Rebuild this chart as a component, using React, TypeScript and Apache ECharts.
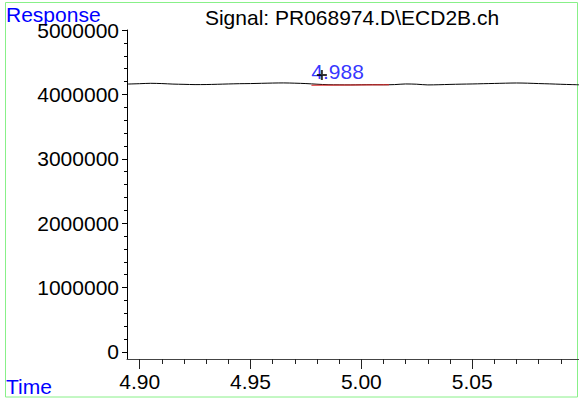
import React, { useEffect, useRef } from "react";
import * as echarts from "echarts";

const titleText = "Signal: PR068974.D\\ECD2B.ch";
const yAxisName = "Response";
const xAxisName = "Time";

const times = [
  4.8943, 4.9, 4.905, 4.91, 4.915, 4.92, 4.925, 4.93, 4.935, 4.94, 4.945, 4.95,
  4.955, 4.96, 4.965, 4.97, 4.975, 4.98, 4.985, 4.99, 4.995, 5.0, 5.005, 5.01,
  5.015, 5.02, 5.025, 5.03, 5.035, 5.04, 5.045, 5.05, 5.055, 5.06, 5.065, 5.07,
  5.075, 5.08, 5.085, 5.09, 5.095, 5.0982,
];
const responses = [
  4160000, 4166000, 4172000, 4168000, 4160000, 4156000, 4152000, 4153000,
  4157000, 4162000, 4166000, 4168000, 4172000, 4176000, 4178000, 4174000,
  4168000, 4158000, 4150000, 4148000, 4147000, 4149000, 4150000, 4149000,
  4152000, 4162000, 4158000, 4147000, 4150000, 4155000, 4159000, 4162000,
  4166000, 4170000, 4174000, 4177000, 4174000, 4168000, 4163000, 4157000,
  4152000, 4149000,
];

const baselineTimes = [4.9775, 5.0125];
const baselineValues = [4142000, 4149000];

const apexTime = 4.9822;
const apexMarkValue = 4300000;
const peakLabel = "4.988";
const peakLabelTime = 4.9893;
const peakLabelValue = 4362000;

const xMin = 4.8943;
const xMax = 5.0982;
const yMin = -110000;
const yMax = 5000000;

const xMajorTicks = [4.9, 4.95, 5.0, 5.05];
const xMinorTicks = [
  4.9, 4.91, 4.92, 4.93, 4.94, 4.95, 4.96, 4.97, 4.98, 4.99, 5.0, 5.01, 5.02,
  5.03, 5.04, 5.05, 5.06, 5.07, 5.08, 5.09,
];
const yMajorTicks = [0, 1000000, 2000000, 3000000, 4000000, 5000000];
const yMinorTicks = [
  0, 200000, 400000, 600000, 800000, 1000000, 1200000, 1400000, 1600000,
  1800000, 2000000, 2200000, 2400000, 2600000, 2800000, 3000000, 3200000,
  3400000, 3600000, 3800000, 4000000, 4200000, 4400000, 4600000, 4800000,
  5000000,
];

const FONT = "'Liberation Sans', Arial, Helvetica, sans-serif";
const FS = 21;

export default function App() {
  const ref = useRef<HTMLDivElement>(null);

  useEffect(() => {
    if (!ref.current) return;
    const chart = echarts.init(ref.current, undefined, { renderer: "svg" });
    const line = times.map((t, i) => [t, responses[i]]);
    const base = baselineTimes.map((t, i) => [t, baselineValues[i]]);

    chart.setOption({
      animation: false,
      backgroundColor: "#ffffff",
      textStyle: { fontFamily: FONT },
      grid: { left: 127, right: 0, top: 30, bottom: 40 },
      xAxis: [
        {
          type: "value",
          min: xMin,
          max: xMax,
          position: "bottom",
          axisLine: { show: true, onZero: false, lineStyle: { color: "#444", width: 1 } },
          axisTick: {
            show: true,
            inside: false,
            customValues: xMajorTicks,
            length: 10,
            lineStyle: { color: "#222" },
          },
          axisLabel: {
            show: true,
            customValues: xMajorTicks,
            formatter: (v: number) => v.toFixed(2),
            fontSize: FS,
            color: "#000",
            margin: 12,
            fontFamily: FONT,
          },
          splitLine: { show: false },
        },
        {
          type: "value",
          min: xMin,
          max: xMax,
          position: "bottom",
          axisLine: { show: false, onZero: false },
          axisTick: {
            show: true,
            inside: false,
            customValues: xMinorTicks,
            length: 5,
            lineStyle: { color: "#222" },
          },
          axisLabel: { show: false },
          splitLine: { show: false },
        },
      ],
      yAxis: [
        {
          type: "value",
          min: yMin,
          max: yMax,
          position: "left",
          axisLine: { show: true, onZero: false, lineStyle: { color: "#000", width: 1 } },
          axisTick: {
            show: true,
            inside: false,
            customValues: yMajorTicks,
            length: 5,
            lineStyle: { color: "#000" },
          },
          axisLabel: {
            show: true,
            customValues: yMajorTicks,
            formatter: (v: number) => String(Math.round(v)),
            fontSize: FS,
            color: "#000",
            margin: 8,
            fontFamily: FONT,
          },
          splitLine: { show: false },
        },
        {
          type: "value",
          min: yMin,
          max: yMax,
          position: "left",
          axisLine: { show: false, onZero: false },
          axisTick: {
            show: true,
            inside: false,
            customValues: yMinorTicks,
            length: 3,
            lineStyle: { color: "#000" },
          },
          axisLabel: { show: false },
          splitLine: { show: false },
        },
      ],
      series: [
        {
          type: "line",
          data: line,
          xAxisIndex: 0,
          yAxisIndex: 0,
          showSymbol: false,
          smooth: 0.3,
          lineStyle: { color: "#000", width: 1 },
          silent: true,
        },
        {
          type: "line",
          data: base,
          xAxisIndex: 0,
          yAxisIndex: 0,
          showSymbol: false,
          lineStyle: { color: "#e02020", width: 1 },
          silent: true,
        },
        {
          type: "scatter",
          data: [[apexTime, apexMarkValue]],
          xAxisIndex: 0,
          yAxisIndex: 0,
          symbol: "path://M4,0H6V4H10V6H6V10H4V6H0V4H4Z",
          symbolSize: 10,
          itemStyle: { color: "#000" },
          silent: true,
          z: 5,
        },
        {
          type: "scatter",
          data: [[peakLabelTime, peakLabelValue]],
          xAxisIndex: 0,
          yAxisIndex: 0,
          symbolSize: 0,
          label: {
            show: true,
            position: "inside",
            formatter: peakLabel,
            color: "#0000ff",
            fontSize: FS,
            fontFamily: FONT,
          },
          silent: true,
        },
      ],
      graphic: [
        {
          type: "rect",
          shape: { x: 5.5, y: 2.5, width: 572, height: 394.5 },
          style: { fill: "none", stroke: "#88f088", lineWidth: 1 },
          silent: true,
        },
        {
          type: "text",
          x: 352,
          y: 17,
          style: {
            text: titleText,
            fill: "#000",
            fontSize: FS,
            fontFamily: FONT,
            align: "center",
            verticalAlign: "middle",
          },
        },
        {
          type: "text",
          x: 6,
          y: 14,
          style: {
            text: yAxisName,
            fill: "#0000ff",
            fontSize: FS,
            fontFamily: FONT,
            align: "left",
            verticalAlign: "middle",
          },
        },
        {
          type: "text",
          x: 6,
          y: 386,
          style: {
            text: xAxisName,
            fill: "#0000ff",
            fontSize: FS,
            fontFamily: FONT,
            align: "left",
            verticalAlign: "middle",
          },
        },
      ],
    });

    return () => chart.dispose();
  }, []);

  return (
    <div
      ref={ref}
      style={{ position: "fixed", left: 0, top: 0, width: 579, height: 399 }}
    />
  );
}
